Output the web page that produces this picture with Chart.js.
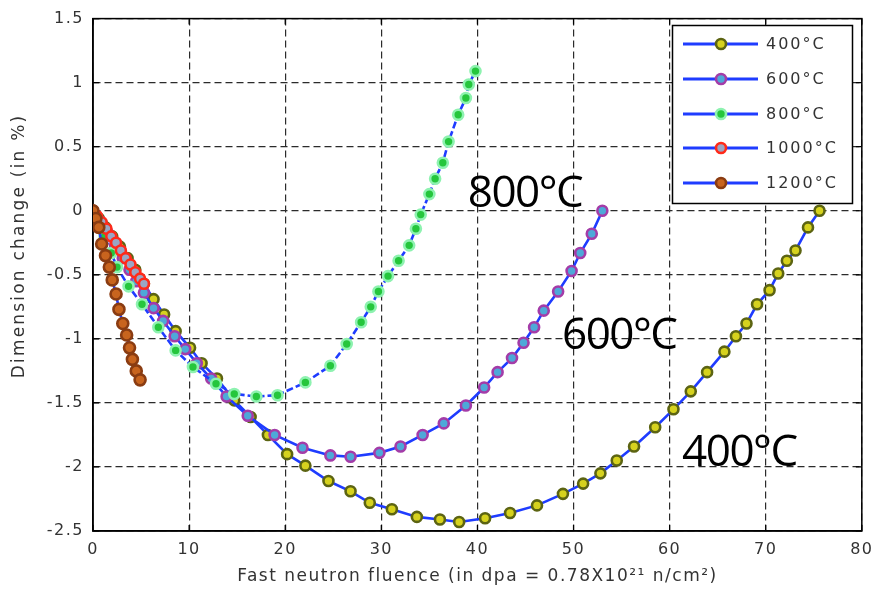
<!DOCTYPE html>
<html><head><meta charset="utf-8">
<script src="https://cdn.jsdelivr.net/npm/chart.js@4/dist/chart.umd.min.js"></script>
<style>html,body{margin:0;padding:0;background:#fff}#wrap{width:881px;height:594px;position:relative}</style>
</head><body><div id="wrap"><canvas id="c" width="881" height="594"></canvas></div>
<script>
const seriesNames = ['400°C', '600°C', '800°C', '1000°C', '1200°C'];

const x400 = [0, 0.6, 1.3, 2.0, 2.8, 3.6, 4.4, 5.3, 6.3, 7.4, 8.6, 10.1, 11.3, 12.9, 14.7, 16.4, 18.2, 20.2, 22.1, 24.5, 26.8, 28.8, 31.1, 33.7, 36.1, 38.1, 40.8, 43.4, 46.2, 48.9, 51.0, 52.8, 54.5, 56.3, 58.5, 60.4, 62.2, 63.9, 65.7, 66.9, 68.0, 69.1, 70.4, 71.3, 72.2, 73.1, 74.4, 75.6];
const y400 = [0, -0.06, -0.13, -0.2, -0.28, -0.37, -0.46, -0.57, -0.69, -0.81, -0.94, -1.07, -1.19, -1.31, -1.48, -1.61, -1.75, -1.90, -1.99, -2.11, -2.19, -2.28, -2.33, -2.39, -2.41, -2.43, -2.40, -2.36, -2.30, -2.21, -2.13, -2.05, -1.95, -1.84, -1.69, -1.55, -1.41, -1.26, -1.10, -0.98, -0.88, -0.73, -0.62, -0.49, -0.39, -0.31, -0.13, 0.0];

const x600 = [0, 0.7, 1.5, 2.3, 3.1, 3.8, 4.5, 5.3, 6.3, 7.3, 8.5, 9.6, 10.8, 12.3, 13.9, 16.1, 18.9, 21.8, 24.7, 26.8, 29.8, 32.0, 34.3, 36.5, 38.8, 40.7, 42.1, 43.6, 44.8, 45.9, 46.9, 48.4, 49.8, 50.7, 51.9, 53.0];
const y600 = [0, -0.08, -0.17, -0.27, -0.37, -0.46, -0.55, -0.64, -0.76, -0.86, -0.98, -1.08, -1.19, -1.31, -1.45, -1.60, -1.75, -1.85, -1.91, -1.92, -1.89, -1.84, -1.75, -1.66, -1.52, -1.38, -1.26, -1.15, -1.03, -0.91, -0.78, -0.63, -0.47, -0.33, -0.18, 0.0];

const x800 = [0, 0.6, 1.2, 1.9, 2.5, 3.7, 5.1, 6.8, 8.6, 10.4, 12.8, 14.7, 17.0, 19.2, 22.1, 24.7, 26.4, 27.9, 28.9, 29.7, 30.7, 31.8, 32.9, 33.6, 34.1, 35.0, 35.6, 36.4, 37.0, 38.0, 38.8, 39.1, 39.8];
const y800 = [0, -0.1, -0.2, -0.33, -0.44, -0.59, -0.73, -0.91, -1.09, -1.22, -1.35, -1.43, -1.45, -1.44, -1.34, -1.21, -1.04, -0.87, -0.75, -0.63, -0.51, -0.39, -0.27, -0.14, -0.03, 0.13, 0.25, 0.375, 0.54, 0.75, 0.88, 0.985, 1.09];

const x1000 = [0, 0.4, 0.9, 1.4, 1.9, 2.4, 2.9, 3.4, 3.9, 4.4, 4.9, 5.3];
const y1000 = [0, -0.04, -0.09, -0.14, -0.2, -0.25, -0.31, -0.37, -0.42, -0.48, -0.53, -0.57];

const x1200 = [0, 0.3, 0.6, 0.9, 1.3, 1.7, 2.0, 2.4, 2.7, 3.1, 3.5, 3.8, 4.1, 4.5, 4.9];
const y1200 = [0, -0.06, -0.13, -0.26, -0.35, -0.44, -0.54, -0.65, -0.77, -0.88, -0.97, -1.07, -1.16, -1.25, -1.32];

const xTicks = [0, 10, 20, 30, 40, 50, 60, 70, 80];
const yTicks = [-2.5, -2, -1.5, -1, -0.5, 0, 0.5, 1, 1.5];
const yTickLabels = ['-2.5', '-2', '-1.5', '-1', '-0.5', '0', '0.5', '1', '1.5'];

const annotationTexts = ['800°C', '600°C', '400°C'];
const annotationX = [39.0, 48.8, 61.3];
const annotationY = [0.03, -1.08, -1.99];

const xTitle = 'Fast neutron fluence (in dpa = 0.78X10²¹ n/cm²)';
const yTitle = 'Dimension change (in %)';

const LINE = '#1f3cff';
const markerFill = ['#d6d21e', '#4ea8d8', '#25c63c', '#9aa6c4', '#c8641e'];
const markerEdge = ['#5c6412', '#a43ca8', '#8ef2b0', '#ff2a1a', '#8a3c12'];
const lineDash = [[], [], [7, 3], [], []];
const drawOrder = [5, 4, 3, 2, 1];

const pts = (xs, ys) => xs.map((x, i) => ({x: x, y: ys[i]}));
const allX = [x400, x600, x800, x1000, x1200];
const allY = [y400, y600, y800, y1000, y1200];

const datasets = seriesNames.map((name, i) => ({
  label: name,
  data: pts(allX[i], allY[i]),
  showLine: true,
  borderColor: LINE,
  borderWidth: 2.6,
  borderDash: lineDash[i],
  tension: 0,
  pointRadius: i === 4 ? 5.5 : 5,
  pointBorderWidth: 2.6,
  pointBackgroundColor: markerFill[i],
  pointBorderColor: markerEdge[i],
  order: drawOrder[i]
}));

const FONT = 'DejaVu Sans';

const spacingPlugin = {
  id: 'spacing',
  beforeDraw(chart) { chart.ctx.letterSpacing = '1.5px'; }
};

const boxPlugin = {
  id: 'box',
  beforeDatasetsDraw(chart) {
    const {ctx, chartArea: a, scales} = chart;
    ctx.save();
    ctx.setLineDash([]);
    ctx.strokeStyle = '#000';
    ctx.lineWidth = 1.5;
    ctx.strokeRect(a.left, a.top, a.right - a.left, a.bottom - a.top);
    ctx.lineWidth = 1.2;
    ctx.beginPath();
    xTicks.forEach(v => {
      const px = scales.x.getPixelForValue(v);
      ctx.moveTo(px, a.bottom); ctx.lineTo(px, a.bottom - 6);
      ctx.moveTo(px, a.top); ctx.lineTo(px, a.top + 6);
    });
    yTicks.forEach(v => {
      const py = scales.y.getPixelForValue(v);
      ctx.moveTo(a.left, py); ctx.lineTo(a.left + 6, py);
      ctx.moveTo(a.right, py); ctx.lineTo(a.right - 6, py);
    });
    ctx.stroke();
    // y axis title
    ctx.save();
    ctx.letterSpacing = '2.2px';
    ctx.translate(20, 246);
    ctx.rotate(-Math.PI / 2);
    ctx.font = '17px "' + FONT + '"';
    ctx.fillStyle = '#333';
    ctx.textAlign = 'center';
    ctx.textBaseline = 'middle';
    ctx.fillText(yTitle, 0, 0);
    ctx.restore();
    ctx.restore();
  }
};

const annotPlugin = {
  id: 'annot',
  afterDatasetsDraw(chart) {
    const {ctx, scales} = chart;
    ctx.save();
    ctx.letterSpacing = '-1.5px';
    ctx.font = '44px "Open Sans"';
    ctx.fillStyle = '#000';
    ctx.textBaseline = 'alphabetic';
    ctx.textAlign = 'left';
    annotationTexts.forEach((t, i) => {
      ctx.fillText(t, scales.x.getPixelForValue(annotationX[i]), scales.y.getPixelForValue(annotationY[i]));
    });
    ctx.restore();
  }
};

const legendPlugin = {
  id: 'mylegend',
  afterDraw(chart) {
    const ctx = chart.ctx;
    ctx.save();
    ctx.letterSpacing = '2px';
    ctx.setLineDash([]);
    const bx = 672.5, by = 25.5, bw = 180, bh = 178;
    ctx.fillStyle = '#fff';
    ctx.fillRect(bx, by, bw, bh);
    ctx.strokeStyle = '#000';
    ctx.lineWidth = 1.5;
    ctx.strokeRect(bx, by, bw, bh);
    const rows = [44, 79, 114, 148, 183];
    chart.data.datasets.forEach((ds, i) => {
      const y = rows[i];
      ctx.strokeStyle = LINE;
      ctx.lineWidth = 3;
      ctx.beginPath(); ctx.moveTo(683, y); ctx.lineTo(758, y); ctx.stroke();
      ctx.beginPath(); ctx.arc(721, y, 5, 0, Math.PI * 2);
      ctx.fillStyle = ds.pointBackgroundColor; ctx.fill();
      ctx.lineWidth = 2.6; ctx.strokeStyle = ds.pointBorderColor; ctx.stroke();
      ctx.fillStyle = '#333';
      ctx.font = '16px "' + FONT + '"';
      ctx.textBaseline = 'middle';
      ctx.textAlign = 'left';
      ctx.fillText(ds.label, 766, y + 1);
    });
    ctx.restore();
  }
};

new Chart(document.getElementById('c'), {
  type: 'scatter',
  data: {datasets: datasets},
  options: {
    responsive: false,
    animation: false,
    layout: {padding: {left: 0, right: 13, top: 13, bottom: 0}},
    plugins: {legend: {display: false}, tooltip: {enabled: false}},
    scales: {
      x: {
        type: 'linear', min: 0, max: 80,
        afterBuildTicks: s => { s.ticks = xTicks.map(v => ({value: v})); },
        afterFit: s => { s.height = 63; },
        grid: {color: '#2b2b2b', lineWidth: 1.2, drawTicks: false},
        border: {display: true, color: '#000', width: 1.5, dash: [7, 4]},
        ticks: {padding: 9, color: '#333', autoSkip: false, maxRotation: 0, font: {family: FONT, size: 16}},
        title: {display: true, text: xTitle, color: '#333', font: {family: FONT, size: 17}, padding: {top: 0, bottom: 7}}
      },
      y: {
        type: 'linear', min: -2.5, max: 1.5,
        afterBuildTicks: s => { s.ticks = yTicks.map(v => ({value: v})); },
        afterFit: s => { s.width = 93; },
        grid: {color: '#2b2b2b', lineWidth: 1.2, drawTicks: false},
        border: {display: true, color: '#000', width: 1.5, dash: [7, 4]},
        ticks: {padding: 9, color: '#333', autoSkip: false, font: {family: FONT, size: 16},
                callback: (v, i) => yTickLabels[i]},
        title: {display: false, text: yTitle}
      }
    }
  },
  plugins: [spacingPlugin, boxPlugin, annotPlugin, legendPlugin]
});
</script>
</body></html>
